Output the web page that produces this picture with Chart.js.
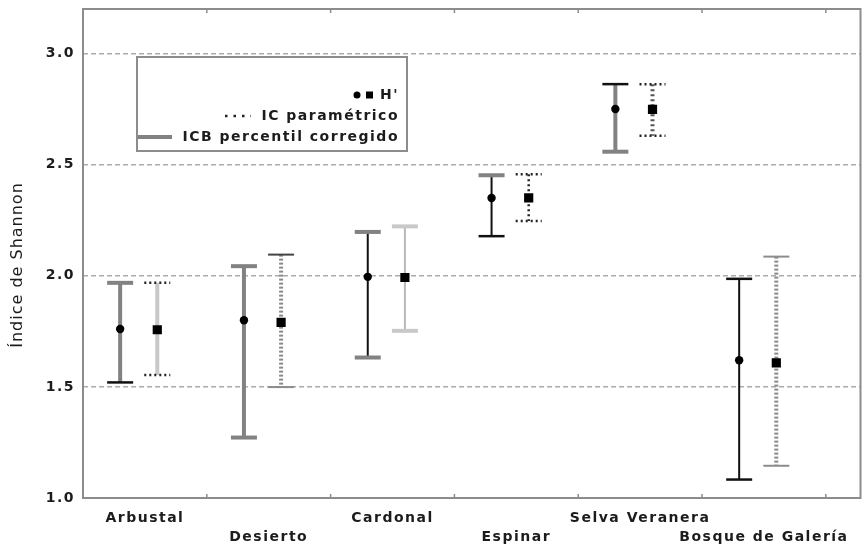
<!DOCTYPE html>
<html>
<head>
<meta charset="utf-8">
<script src="https://cdn.jsdelivr.net/npm/chart.js@4.4.1/dist/chart.umd.min.js"></script>
<style>
  body { margin: 0; background: #fff; }
</style>
</head>
<body>
<canvas id="myChart" width="867" height="546"></canvas>
<script>
const categories = ["Arbustal", "Desierto", "Cardonal", "Espinar", "Selva Veranera", "Bosque de Galería"];

// H' con intervalo ICB percentil corregido
const icbMean = [1.76, 1.80, 1.995, 2.35, 2.75, 1.62];
const icbLow  = [1.52, 1.272, 1.632, 2.178, 2.558, 1.083];
const icbHigh = [1.968, 2.043, 2.197, 2.452, 2.862, 1.986];

// H' con IC parametrico
const parMean = [1.757, 1.79, 1.992, 2.35, 2.748, 1.608];
const parLow  = [1.553, 1.499, 1.752, 2.246, 2.630, 1.145];
const parHigh = [1.968, 2.095, 2.222, 2.457, 2.862, 2.086];

const yTicks = [1.0, 1.5, 2.0, 2.5, 3.0];
const yTitle = 'Índice de Shannon';

const FONT = 'DejaVu Sans';
const TXT = '#1c1c1c';
const CAP = 13;

// line styles of the error bars
const gray = { color: '#828282', width: 4 };
const black = { color: '#111', width: 2 };
const blackCap = { color: '#111', width: 2.5 };
const light = { color: '#c8c8c8', width: 4 };
const lightThin = { color: '#b8b8b8', width: 2 };
const thinGray = { color: '#8c8c8c', width: 2 };
const dots = { color: '#222', width: 2.5, dash: [2, 3] };
const ladder = { color: '#8a8a8a', width: 4, dash: [2, 2] };
const darkLadder = { color: '#555', width: 4, dash: [2, 3] };

const icbStyle = [
  { line: gray, top: gray, bottom: blackCap },
  { line: gray, top: gray, bottom: gray },
  { line: black, top: gray, bottom: gray },
  { line: black, top: gray, bottom: blackCap },
  { line: gray, top: blackCap, bottom: gray },
  { line: black, top: blackCap, bottom: blackCap }
];
const parStyle = [
  { line: light, top: dots, bottom: dots },
  { line: ladder, top: { color: '#444', width: 2 }, bottom: thinGray },
  { line: lightThin, top: light, bottom: light },
  { line: dots, top: dots, bottom: dots },
  { line: darkLadder, top: dots, bottom: dots },
  { line: ladder, top: thinGray, bottom: thinGray }
];

const ICB_OFF = -0.2;
const PAR_OFF = 0.1;

function stroke(ctx, x1, y1, x2, y2, st) {
  ctx.beginPath();
  ctx.strokeStyle = st.color;
  ctx.lineWidth = st.width;
  ctx.setLineDash(st.dash || []);
  ctx.lineCap = 'butt';
  ctx.moveTo(x1, y1);
  ctx.lineTo(x2, y2);
  ctx.stroke();
}

const spacing = {
  id: 'spacing',
  beforeDraw(chart) {
    chart.ctx.letterSpacing = '1.5px';
  }
};

const errorBars = {
  id: 'errorBars',
  beforeDatasetsDraw(chart) {
    const { ctx, scales: { x, y } } = chart;
    ctx.save();
    const drawBar = (xv, lo, hi, st) => {
      const px = x.getPixelForValue(xv);
      const top = y.getPixelForValue(hi);
      const bot = y.getPixelForValue(lo);
      stroke(ctx, px, top, px, bot, st.line);
      stroke(ctx, px - CAP, top, px + CAP, top, st.top);
      stroke(ctx, px - CAP, bot, px + CAP, bot, st.bottom);
    };
    categories.forEach((c, i) => {
      drawBar(i + 1 + ICB_OFF, icbLow[i], icbHigh[i], icbStyle[i]);
      drawBar(i + 1 + PAR_OFF, parLow[i], parHigh[i], parStyle[i]);
    });
    ctx.restore();
  }
};

const frame = {
  id: 'frame',
  afterDatasetsDraw(chart) {
    const { ctx, chartArea: a, scales: { x } } = chart;
    ctx.save();
    // legend
    const lx = a.left + 54, ly = 57;
    ctx.fillStyle = '#fff';
    ctx.fillRect(lx, ly, 270, 94);
    ctx.strokeStyle = '#8c8c8c';
    ctx.lineWidth = 2;
    ctx.setLineDash([]);
    ctx.strokeRect(lx, ly, 270, 94);
    const tx = lx + 262;
    ctx.font = 'bold 14px ' + FONT;
    ctx.fillStyle = TXT;
    ctx.textAlign = 'right';
    ctx.textBaseline = 'middle';
    ctx.letterSpacing = '1.5px';
    ctx.fillText("H'", tx, ly + 38);
    ctx.fillText('IC paramétrico', tx, ly + 59);
    ctx.fillText('ICB percentil corregido', tx, ly + 80);
    ctx.fillStyle = '#000';
    ctx.beginPath();
    ctx.arc(lx + 220, ly + 38, 3.5, 0, Math.PI * 2);
    ctx.fill();
    ctx.fillRect(lx + 229, ly + 34.5, 7, 7);
    stroke(ctx, lx + 88, ly + 59, lx + 114, ly + 59, { color: '#222', width: 2.5, dash: [2.5, 6] });
    stroke(ctx, lx + 1, ly + 80, lx + 35, ly + 80, gray);

    // y axis title
    ctx.save();
    ctx.translate(18, 265);
    ctx.rotate(-Math.PI / 2);
    ctx.font = '16px ' + FONT;
    ctx.letterSpacing = '1px';
    ctx.textAlign = 'center';
    ctx.textBaseline = 'middle';
    ctx.fillStyle = TXT;
    ctx.fillText(yTitle, 0, 0);
    ctx.restore();

    // plot frame and tick marks
    ctx.strokeStyle = '#8c8c8c';
    ctx.lineWidth = 2;
    ctx.setLineDash([]);
    ctx.strokeRect(a.left, a.top, a.right - a.left, a.bottom - a.top);
    categories.forEach((c, i) => {
      const px = x.getPixelForValue(i + 1.5);
      stroke(ctx, px, a.bottom, px, a.bottom - 4, { color: '#8c8c8c', width: 1.5 });
      stroke(ctx, px, a.top, px, a.top + 4, { color: '#8c8c8c', width: 1.5 });
    });
    ctx.restore();
  }
};

const ctx = document.getElementById('myChart').getContext('2d');

new Chart(ctx, {
  type: 'scatter',
  data: {
    datasets: [
      {
        label: "H' ICB",
        data: icbMean.map((v, i) => ({ x: i + 1 + ICB_OFF, y: v })),
        pointStyle: 'circle',
        pointRadius: 4.2,
        backgroundColor: '#000',
        borderWidth: 0
      },
      {
        label: "H' IC",
        data: parMean.map((v, i) => ({ x: i + 1 + PAR_OFF, y: v })),
        pointStyle: 'rect',
        pointRadius: 6.5,
        backgroundColor: '#000',
        borderWidth: 0
      }
    ]
  },
  options: {
    responsive: false,
    animation: false,
    layout: { padding: { top: 9, right: 2, left: 0, bottom: 0 } },
    plugins: {
      legend: { display: false },
      tooltip: { enabled: false }
    },
    scales: {
      x: {
        type: 'linear',
        position: 'bottom',
        min: 0.5,
        max: 6.78,
        afterBuildTicks: scale => {
          scale.ticks = categories.map((c, i) => ({ value: i + 1 }));
        },
        afterFit: scale => {
          scale.height = 48;
          scale.paddingLeft = 0;
          scale.paddingRight = 0;
        },
        grid: { display: false },
        border: { display: false },
        ticks: {
          autoSkip: false,
          maxRotation: 0,
          padding: 3,
          color: TXT,
          font: { family: FONT, size: 14, weight: 'bold', lineHeight: 1.35 },
          callback: (v, i) => i % 2 === 0 ? [categories[i], ''] : ['', categories[i]]
        }
      },
      y: {
        min: 1,
        max: 3.2,
        afterBuildTicks: scale => {
          scale.ticks = yTicks.map(v => ({ value: v }));
        },
        afterFit: scale => {
          scale.width = 83;
          scale.paddingTop = 0;
          scale.paddingBottom = 0;
        },
        grid: {
          drawTicks: false,
          lineWidth: 1.5,
          color: c => c.tick && c.tick.value === 1 ? 'rgba(0,0,0,0)' : '#ababab'
        },
        border: { display: false, dash: [5, 3] },
        ticks: {
          padding: 8,
          color: TXT,
          font: { family: FONT, size: 14, weight: 'bold' },
          callback: v => v.toFixed(1)
        }
      }
    }
  },
  plugins: [spacing, errorBars, frame]
});
</script>
</body>
</html>
